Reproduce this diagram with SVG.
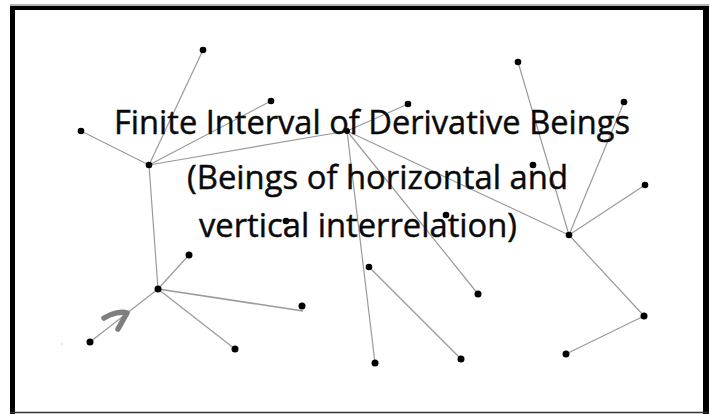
<svg xmlns="http://www.w3.org/2000/svg" width="710" height="414" viewBox="0 0 710 414">
<style>
.e{stroke:#9a9a9a;stroke-width:1.2;fill:none}
.n{fill:#000}
.t{font-family:"Open Sans","Noto Sans","DejaVu Sans",sans-serif;font-size:33px;fill:#0a0a0a;stroke:#0a0a0a;stroke-width:0.45}
</style>
<rect width="710" height="414" fill="#fff"/>
<g id="frame">
<line x1="10" y1="5" x2="709" y2="5" stroke="#9a9a9a" stroke-width="1.5"/>
<line x1="10" y1="8" x2="709" y2="8" stroke="#000" stroke-width="4"/>
<line x1="12.5" y1="6" x2="12.5" y2="414" stroke="#000" stroke-width="5"/>
<line x1="706" y1="6" x2="706" y2="414" stroke="#000" stroke-width="6"/>
<line x1="10" y1="412.5" x2="709" y2="412.5" stroke="#333" stroke-width="1.5"/>
</g>
<g id="connectors">
<line class="e" x1="149" y1="165" x2="203" y2="50"/>
<line class="e" x1="149" y1="165" x2="271" y2="101"/>
<line class="e" x1="149" y1="165" x2="81" y2="131"/>
<line class="e" x1="149" y1="165" x2="347" y2="131"/>
<line class="e" x1="149" y1="165" x2="158" y2="289"/>
<line class="e" x1="347" y1="131" x2="408" y2="104"/>
<line class="e" x1="347" y1="131" x2="569" y2="235"/>
<line class="e" x1="347" y1="131" x2="375" y2="363"/>
<line class="e" x1="347" y1="131" x2="478" y2="294"/>
<line class="e" x1="369" y1="267" x2="461" y2="359"/>
<line class="e" x1="569" y1="235" x2="518" y2="62"/>
<line class="e" x1="569" y1="235" x2="624" y2="102"/>
<line class="e" x1="569" y1="235" x2="645" y2="185"/>
<line class="e" x1="569" y1="235" x2="644" y2="316"/>
<line class="e" x1="644" y1="316" x2="566" y2="354"/>
<line class="e" x1="158" y1="289" x2="189" y2="255"/>
<line class="e" x1="158" y1="289" x2="303" y2="311" style="stroke-width:1.5"/>
<line class="e" x1="158" y1="289" x2="235" y2="349"/>
<line class="e" x1="158" y1="289" x2="90" y2="342"/>
</g>
<g id="n-a"><circle class="n" cx="203" cy="50" r="3.3"/></g>
<g id="n-b"><circle class="n" cx="271" cy="101" r="3.3"/></g>
<g id="n-c"><circle class="n" cx="81" cy="131" r="3.3"/></g>
<g id="n-hub1"><circle class="n" cx="149" cy="165" r="3.3"/></g>
<g id="n-hub2"><circle class="n" cx="347" cy="131" r="3"/></g>
<g id="n-d"><circle class="n" cx="408" cy="104" r="3.3"/></g>
<g id="n-e"><circle class="n" cx="518" cy="62" r="3.3"/></g>
<g id="n-f"><circle class="n" cx="624" cy="102" r="3.3"/></g>
<g id="n-g"><circle class="n" cx="533" cy="165" r="3.3"/></g>
<g id="n-i"><circle class="n" cx="645" cy="185" r="3.3"/></g>
<g id="n-hub3"><circle class="n" cx="569" cy="235" r="3.3"/></g>
<g id="n-j"><circle class="n" cx="286" cy="221" r="3.3"/></g>
<g id="n-k"><circle class="n" cx="446" cy="215" r="3.3"/></g>
<g id="n-l"><circle class="n" cx="369" cy="267" r="3.3"/></g>
<g id="n-m"><circle class="n" cx="478" cy="294" r="3.5"/></g>
<g id="n-n"><circle class="n" cx="375" cy="363" r="3.5"/></g>
<g id="n-o"><circle class="n" cx="461" cy="359" r="3.5"/></g>
<g id="n-p"><circle class="n" cx="644" cy="316" r="3.5"/></g>
<g id="n-q"><circle class="n" cx="566" cy="354" r="3.5"/></g>
<g id="n-hub4"><circle class="n" cx="158" cy="289" r="3.5"/></g>
<g id="n-r"><circle class="n" cx="189" cy="255" r="3.5"/></g>
<g id="n-s"><circle class="n" cx="302" cy="306" r="3.5"/></g>
<g id="n-t"><circle class="n" cx="235" cy="349" r="3.5"/></g>
<g id="n-u"><circle class="n" cx="90" cy="342" r="3.5"/></g>
<circle cx="62" cy="344" r="0.7" fill="#bbb"/>
<path d="M104,318 C112,313 122,311 127,313 L118,329" fill="none" stroke="#7f7f7f" stroke-width="5.5" stroke-linecap="round" stroke-linejoin="round"/>
<g id="title">
<text class="t" x="114" y="134" textLength="516" lengthAdjust="spacingAndGlyphs">Finite Interval of Derivative Beings</text>
<text class="t" x="187" y="189" textLength="381" lengthAdjust="spacingAndGlyphs">(Beings of horizontal and</text>
<text class="t" x="199" y="237" textLength="318" lengthAdjust="spacingAndGlyphs">vertical interrelation)</text>
</g>
</svg>
